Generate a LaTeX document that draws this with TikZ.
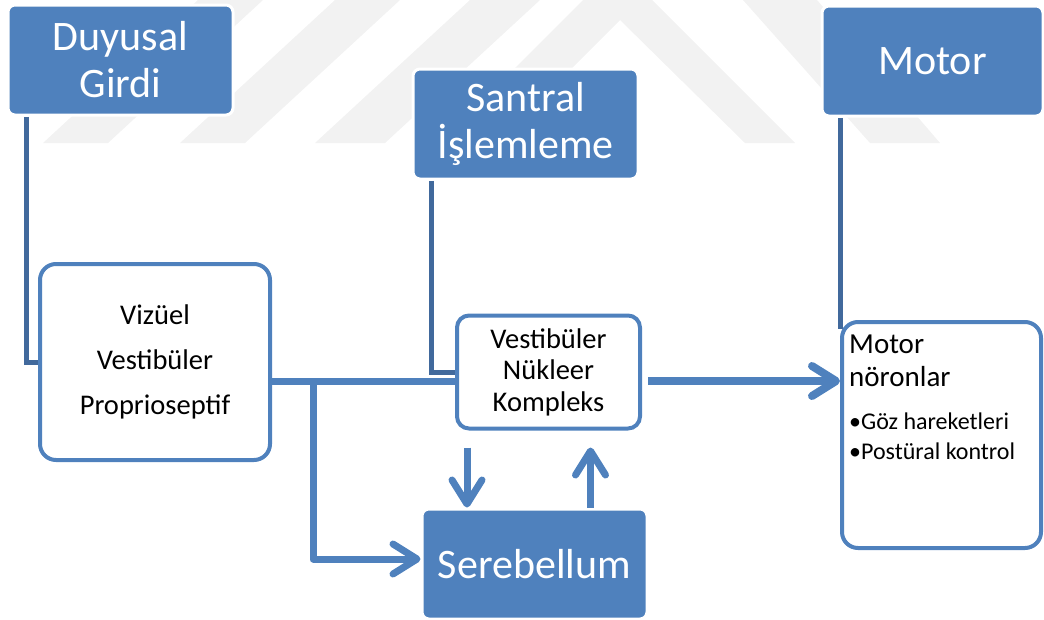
\documentclass[tikz,border=0pt]{standalone}
\usepackage{fontspec}
\setmainfont{Carlito}
\usetikzlibrary{arrows.meta,backgrounds}
\definecolor{boxblue}{HTML}{4F81BD}
\definecolor{darkblue}{HTML}{41699C}
\definecolor{wmgray}{HTML}{F2F2F2}
\tikzset{
    headbox/.style={rectangle, rounded corners=7pt, fill=boxblue, draw=white, line width=3pt, text=white, align=center, minimum width=225pt, minimum height=110pt, inner sep=0, font=\fontsize{42}{47}\selectfont},
    whitebox/.style={rectangle, rounded corners=16pt, fill=white, draw=boxblue, line width=4pt, align=center, inner sep=0, font=\fontsize{28.5}{31.5}\selectfont},
    feed/.style={draw=darkblue, line width=5pt},
    link/.style={draw=boxblue, line width=7pt, line join=round},
    flow/.style={link, -{Straight Barb[length=24pt, width=30pt, round]}}
}
\begin{document}
\begin{tikzpicture}[x=1pt, y=-1pt]
    \useasboundingbox (0,0) rectangle (1044,619);
    \node[headbox] (duyusal) at (120.5,60) {Duyusal\\Girdi};
    \node[headbox] (santral) at (525.5,124) {Santral\\İşlemleme};
    \node[headbox, minimum width=221pt] (motor) at (932.5,61) {Motor};
    \node[headbox] (serebellum) at (534.5,564) {Serebellum};
    \node[whitebox, minimum width=230pt, minimum height=196pt, font=\fontsize{28.5}{45}\selectfont] (vizuel) at (155,362) {Vizüel\\Vestibüler\\Proprioseptif};
    \node[whitebox, rounded corners=12pt, minimum width=183pt, minimum height=113pt] (vnk) at (548.5,372) {Vestibüler\\Nükleer\\Kompleks};
    \node[whitebox, minimum width=199pt, minimum height=226pt] (noron) at (941.5,435) {};
    \node[anchor=north west, align=left, inner sep=0, font=\fontsize{29}{33}\selectfont] (norontext) at ([xshift=9pt,yshift=-15pt]noron.north west) {Motor\\nöronlar};
    \node[anchor=north west, align=left, inner sep=0, font=\fontsize{24}{30}\selectfont] (noronlist) at ([yshift=-25pt]norontext.south west) {•Göz hareketleri\\•Postüral kontrol};

    \begin{scope}[on background layer]
        \fill[wmgray] (43,143) -- (108,143) -- (263,0) -- (198,0) -- cycle;
        \fill[wmgray] (180,143) -- (245,143) -- (400,0) -- (335,0) -- cycle;
        \fill[wmgray] (315,143) -- (385,143) -- (540,0) -- (470,0) -- cycle;
        \fill[wmgray] (440,143) -- (583,0) -- (652,0) -- (795,143) -- (745,143) -- (620,20) -- (497,143) -- cycle;
        \fill[wmgray] (743,0) -- (817,0) -- (940,143) -- (870,143) -- cycle;
        \coordinate (ntop) at ([yshift=-9pt]noron.north);
        \draw[feed] ([xshift=20pt]duyusal.south west) |- (vizuel.west);
        \draw[feed] ([xshift=20pt]santral.south west) |- (vnk.west);
        \draw[feed] ([xshift=20pt]motor.south west) coordinate (mfoot) -- (mfoot |- ntop);
    \end{scope}

    \coordinate (bus) at ([yshift=-19pt]vizuel.east);
    \coordinate (busR) at (bus -| vnk.east);
    \coordinate (downtop) at ([xshift=12pt,yshift=-17pt]vnk.south west);
    \coordinate (upfoot) at ([xshift=170pt]serebellum.north west);
    \draw[link] (bus) -- (bus -| vnk.west);
    \draw[flow] ([xshift=41pt]bus) |- ([yshift=5pt]serebellum.west);
    \draw[flow, line width=8pt] ([xshift=6pt]busR) -- (bus -| noron.west);
    \draw[flow] (downtop) -- (downtop |- serebellum.north);
    \draw[flow] (upfoot) -- (upfoot |- downtop);
\end{tikzpicture}
\end{document}
